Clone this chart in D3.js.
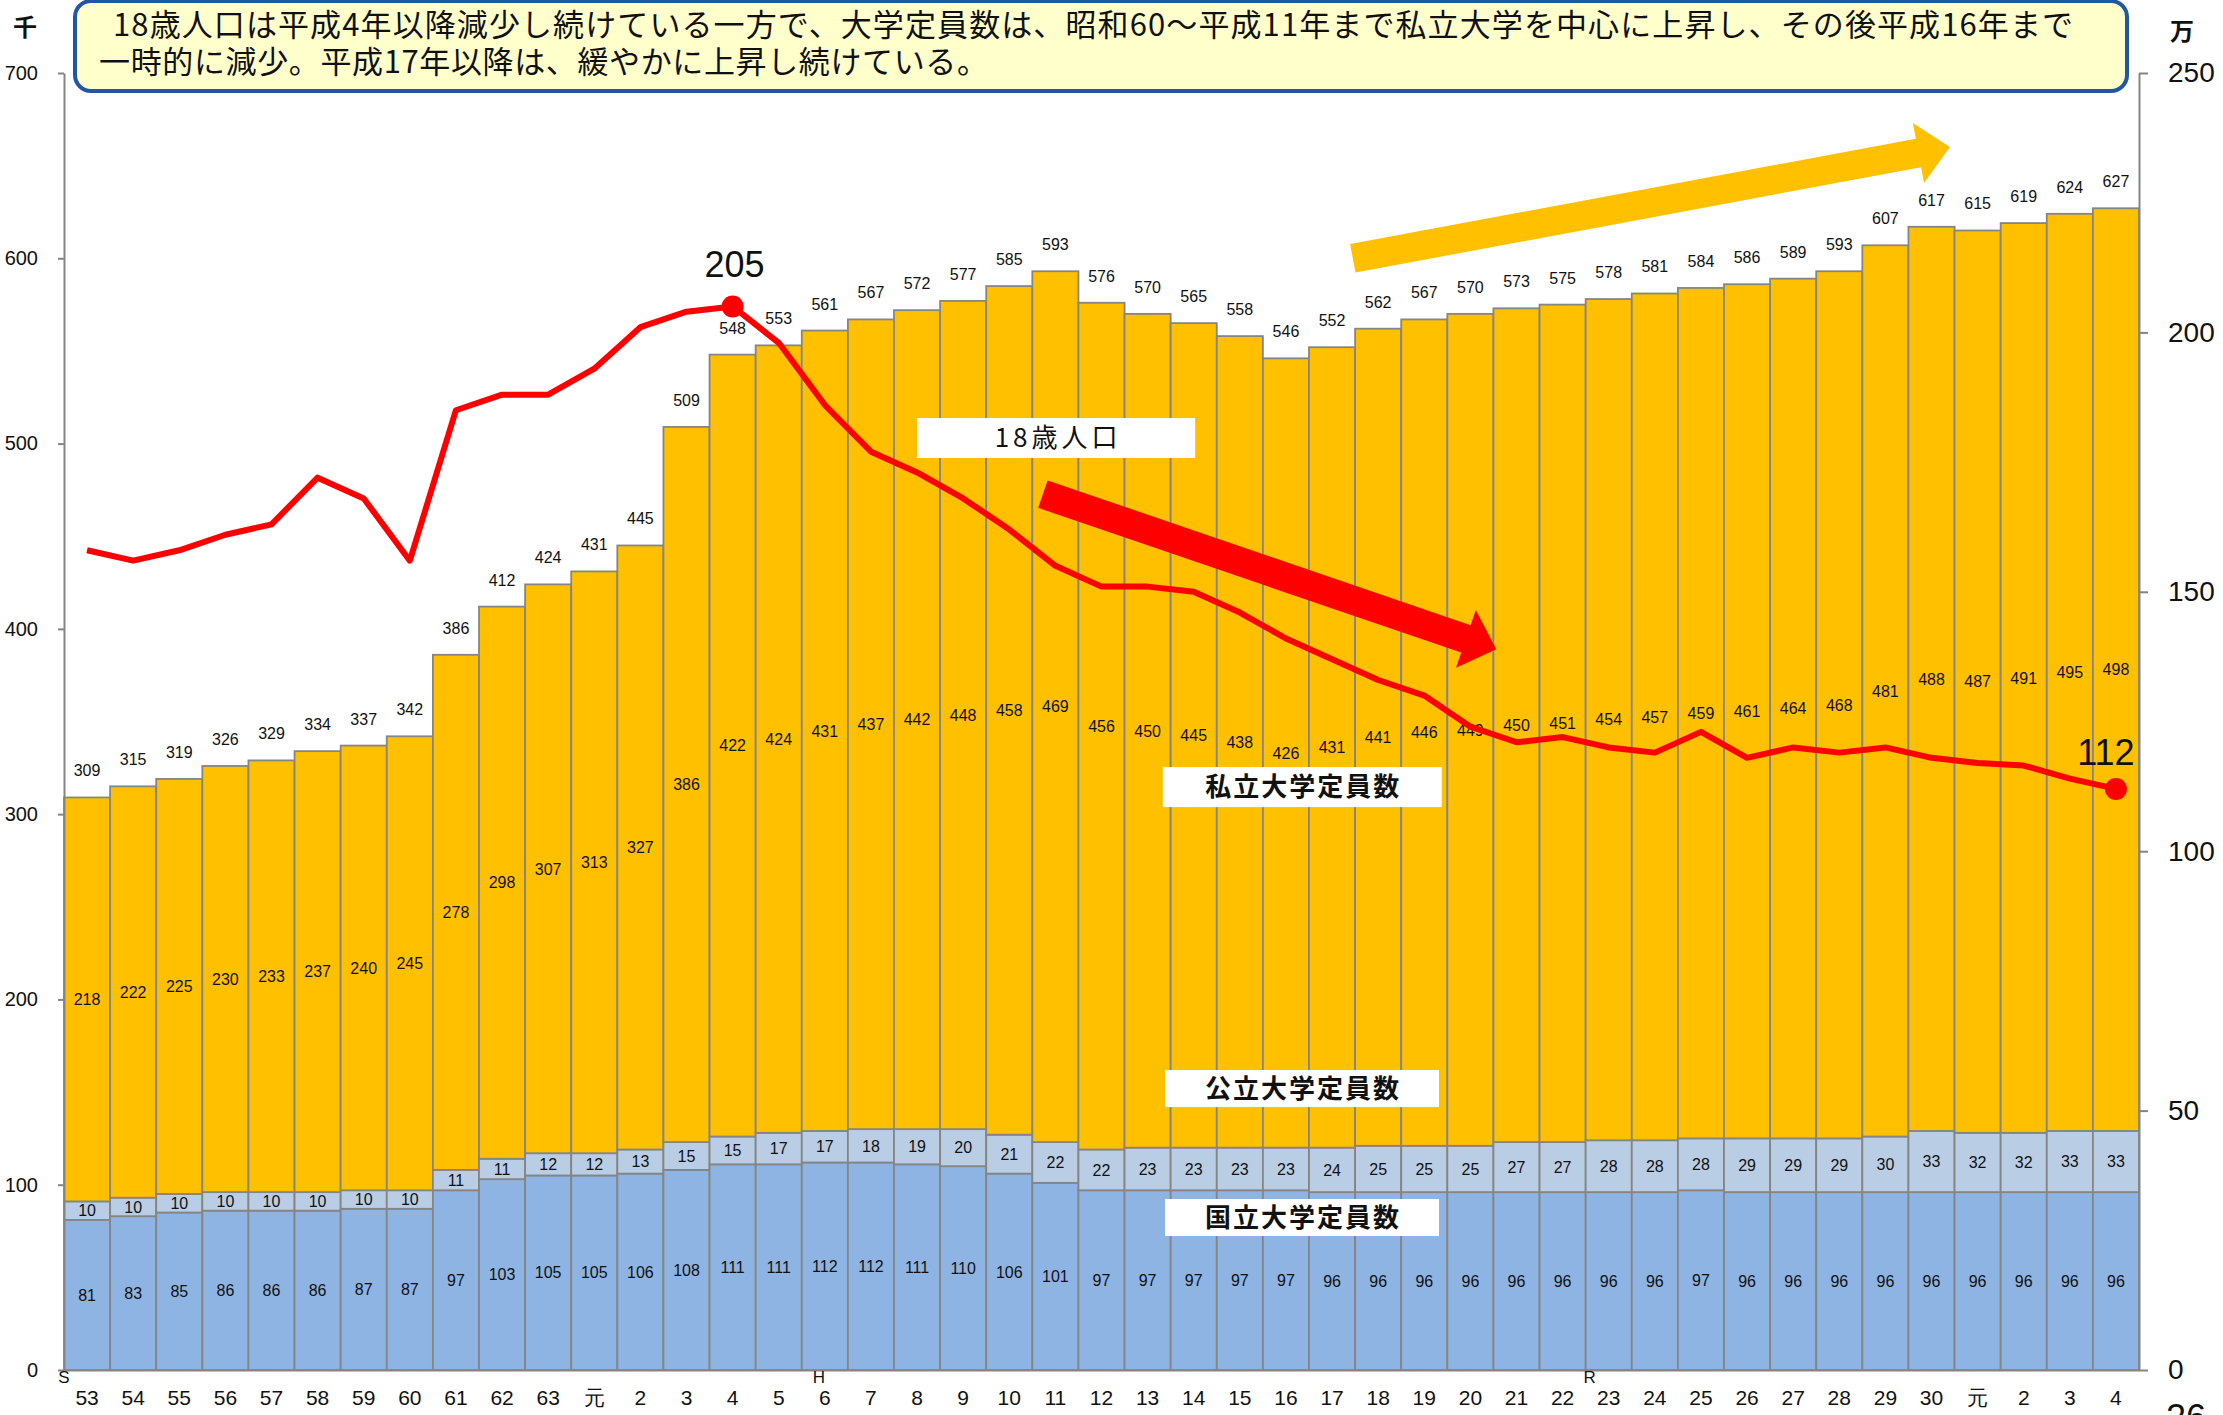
<!DOCTYPE html>
<html>
<head>
<meta charset="utf-8">
<script src="https://cdn.jsdelivr.net/npm/d3@7"></script>
<style>
  html, body { margin: 0; padding: 0; background: #ffffff; }
  svg { display: block; }
  text { font-family: "Liberation Sans", Arial, sans-serif; }
  .jp { font-family: "Noto Sans CJK JP", "Noto Sans", sans-serif; }
</style>
</head>
<body>
<svg id="chart" width="2223" height="1415"></svg>
<script>
// ---------------- DATA ----------------
const categories = ["53","54","55","56","57","58","59","60","61","62","63","元",
  "2","3","4","5","6","7","8","9","10","11","12","13","14","15","16","17","18","19",
  "20","21","22","23","24","25","26","27","28","29","30","元","2","3","4"];

// 国立大学定員数 (千人)
const nationalCap = [81,83,85,86,86,86,87,87,97,103,105,105,106,108,111,111,
  112,112,111,110,106,101,97,97,97,97,97,96,96,96,96,96,96,96,96,97,96,96,96,96,96,96,96,96,96];
// 公立大学定員数 (千人)
const publicCap = [10,10,10,10,10,10,10,10,11,11,12,12,13,15,15,17,
  17,18,19,20,21,22,22,23,23,23,23,24,25,25,25,27,27,28,28,28,29,29,29,30,33,32,32,33,33];
// 私立大学定員数 (千人)
const privateCap = [218,222,225,230,233,237,240,245,278,298,307,313,327,386,422,424,
  431,437,442,448,458,469,456,450,445,438,426,431,441,446,449,450,451,454,457,459,461,464,468,481,488,487,491,495,498];
// 大学定員数 合計 (千人)
const totalCap = [309,315,319,326,329,334,337,342,386,412,424,431,445,509,548,553,
  561,567,572,577,585,593,576,570,565,558,546,552,562,567,570,573,575,578,581,584,586,589,593,607,617,615,619,624,627];
// 18歳人口 (万人)
const pop18 = [158,156,158,161,163,172,168,156,185,188,188,193,201,204,205,198,
  186,177,173,168,162,155,151,151,150,146,141,137,133,130,124,121,122,120,119,123,118,120,119,120,118,117,116.5,114,112];

const leftTicks = [0,100,200,300,400,500,600,700];
const rightTicks = [0,50,100,150,200,250];
const eraMarks = [{label:"S", index:0}, {label:"H", index:16}, {label:"R", index:33}];
const highlighted = [14, 44]; // 平成4年 (205), 令和4年 (112)

const titleLines = [
  "18歳人口は平成4年以降減少し続けている一方で、大学定員数は、昭和60～平成11年まで私立大学を中心に上昇し、その後平成16年まで",
  "一時的に減少。平成17年以降は、緩やかに上昇し続けている。"
];

// ---------------- LAYOUT ----------------
const svg = d3.select("#chart");
const X0 = 64, X1 = 2139, YB = 1370, YT = 73;
const x = d3.scaleBand().domain(d3.range(categories.length)).range([X0, X1]).padding(0);
const yL = d3.scaleLinear().domain([0, 700]).range([YB, YT]);
const yR = d3.scaleLinear().domain([0, 250]).range([YB, YT]);
const step = x.step();
const xAt = t => X0 + t * step;      // fractional band position
const cx = i => x(i) + x.bandwidth() / 2;

const COL_NAT = "#8EB4E3", COL_PUB = "#B9CDE5", COL_PRI = "#FFC000";
const GRID = "#858585";

// ---------------- BARS ----------------
const rows = categories.map((c, i) => ({
  i, nat: nationalCap[i], pub: publicCap[i], pri: privateCap[i], tot: totalCap[i]
}));

const gBars = svg.append("g");
rows.forEach(r => {
  const segs = [
    {y0: 0, y1: r.nat, fill: COL_NAT},
    {y0: r.nat, y1: r.nat + r.pub, fill: COL_PUB},
    {y0: r.nat + r.pub, y1: r.tot, fill: COL_PRI}
  ];
  segs.forEach(s => {
    gBars.append("rect")
      .attr("x", x(r.i)).attr("width", x.bandwidth())
      .attr("y", yL(s.y1)).attr("height", yL(s.y0) - yL(s.y1))
      .attr("fill", s.fill).attr("stroke", GRID).attr("stroke-width", 1.8);
  });
});

// segment labels
const gLab = svg.append("g").attr("font-size", 16).attr("fill", "#111").attr("text-anchor", "middle");
rows.forEach(r => {
  gLab.append("text").attr("x", cx(r.i)).attr("y", yL(r.nat / 2)).attr("dy", "0.36em").text(r.nat);
  gLab.append("text").attr("x", cx(r.i)).attr("y", yL(r.nat + r.pub / 2)).attr("dy", "0.36em").text(r.pub);
  gLab.append("text").attr("x", cx(r.i)).attr("y", yL((r.nat + r.pub + r.tot) / 2)).attr("dy", "0.36em").text(r.pri);
  gLab.append("text").attr("x", cx(r.i)).attr("y", yL(r.tot) - 21).text(r.tot);
});

// ---------------- AXES ----------------
const axL = svg.append("g").attr("transform", `translate(${X0},0)`)
  .call(d3.axisLeft(yL).tickValues(leftTicks).tickSize(6).tickSizeOuter(0).tickPadding(20));
const axR = svg.append("g").attr("transform", `translate(${X1},0)`)
  .call(d3.axisRight(yR).tickValues(rightTicks).tickSize(9).tickSizeOuter(0).tickPadding(20));
const axB = svg.append("g").attr("transform", `translate(0,${YB})`)
  .call(d3.axisBottom(x).tickFormat(i => categories[i]).tickSize(0).tickPadding(20));
[axL, axR, axB].forEach(a => {
  a.selectAll("path").attr("stroke", GRID).attr("stroke-width", 2);
  a.selectAll("line").attr("stroke", GRID).attr("stroke-width", 2);
  a.selectAll("text").attr("fill", "#111").attr("font-family", "'Liberation Sans', Arial, 'Noto Sans CJK JP', sans-serif");
});
axL.selectAll("text").attr("font-size", 20);
axR.selectAll("text").attr("font-size", 28);
axB.selectAll("text").attr("font-size", 21);

// era marks
svg.append("g").selectAll("text").data(eraMarks).join("text")
  .attr("x", d => d.index === 0 ? x(d.index) : d.index === 16 ? x(d.index) + 17 : x(d.index) + 4)
  .attr("y", YB + 13).attr("text-anchor", "middle").attr("font-size", 17).attr("fill", "#111")
  .text(d => d.label);

// unit labels
svg.append("text").attr("class", "jp").attr("x", 25).attr("y", 36).attr("text-anchor", "middle")
  .attr("font-size", 24).attr("font-weight", "bold").attr("fill", "#111").text("千");
svg.append("text").attr("class", "jp").attr("x", 2182).attr("y", 40).attr("text-anchor", "middle")
  .attr("font-size", 24).attr("font-weight", "bold").attr("fill", "#111").text("万");

// page number (cut off at bottom, as in the source)
svg.append("text").attr("x", 2166).attr("y", 1430).attr("font-size", 36).attr("fill", "#111").text("26");

// ---------------- 18歳人口 LINE ----------------
const line = d3.line().x((d, i) => cx(i)).y(d => yR(d));
svg.append("path").datum(pop18).attr("d", line)
  .attr("fill", "none").attr("stroke", "#FF0000").attr("stroke-width", 6).attr("stroke-linejoin", "round");
svg.append("g").selectAll("circle").data(highlighted).join("circle")
  .attr("cx", i => cx(i)).attr("cy", i => yR(pop18[i])).attr("r", 11).attr("fill", "#FF0000");
svg.append("text").attr("x", cx(14) + 2).attr("y", yR(pop18[14]) - 29).attr("text-anchor", "middle")
  .attr("font-size", 36).attr("fill", "#111").text(pop18[14]);
svg.append("text").attr("x", cx(44) - 10).attr("y", yR(pop18[44]) - 24).attr("text-anchor", "middle")
  .attr("font-size", 36).attr("fill", "#111").text(pop18[44]);

// ---------------- ARROWS ----------------
function arrow(t0, v0, t1, v1, color) {
  const ax = xAt(t0), ay = yL(v0), bx = xAt(t1), by = yL(v1);
  const L = Math.hypot(bx - ax, by - ay);
  const ux = (bx - ax) / L, uy = (by - ay) / L, nx = -uy, ny = ux;
  const sw = 29, hw = 61, hl = 32;
  const P = (s, n) => [ax + ux * s + nx * n, ay + uy * s + ny * n];
  const pts = [P(0, -sw/2), P(L - hl, -sw/2), P(L - hl, -hw/2), P(L, 0), P(L - hl, hw/2), P(L - hl, sw/2), P(0, sw/2)];
  svg.append("polygon").attr("points", pts.map(p => p.join(",")).join(" ")).attr("fill", color);
}
arrow(27.95, 600, 40.9, 660, "#FFC000");
arrow(21.23, 472.7, 31.06, 389, "#FF0000");

// ---------------- LABEL BOXES ----------------
const boxes = [
  {text: "18歳人口", t0: 18.50, t1: 24.53, v0: 513.8, v1: 492.2, ls: 4, fw: 400},
  {text: "私立大学定員数", t0: 23.83, t1: 29.88, v0: 325.4, v1: 303.8, ls: 2, fw: 700},
  {text: "公立大学定員数", t0: 23.88, t1: 29.82, v0: 161.9, v1: 141.9, ls: 2, fw: 700},
  {text: "国立大学定員数", t0: 23.88, t1: 29.82, v0: 92.3, v1: 72.3, ls: 2, fw: 700}
];
boxes.forEach(b => {
  const bx0 = xAt(b.t0), bx1 = xAt(b.t1), by0 = yL(b.v0), by1 = yL(b.v1);
  svg.append("rect").attr("x", bx0).attr("y", by0).attr("width", bx1 - bx0).attr("height", by1 - by0).attr("fill", "#fff");
  svg.append("text").attr("class", "jp").attr("x", (bx0 + bx1) / 2 + b.ls / 2).attr("y", (by0 + by1) / 2)
    .attr("dy", "0.36em").attr("text-anchor", "middle").attr("font-size", 26).attr("font-weight", b.fw)
    .attr("letter-spacing", b.ls).attr("fill", "#111").text(b.text);
});

// ---------------- TITLE BOX ----------------
svg.append("rect").attr("x", 75).attr("y", 1).attr("width", 2052).attr("height", 90)
  .attr("rx", 16).attr("ry", 16).attr("fill", "#FFFFCC").attr("stroke", "#1F56A6").attr("stroke-width", 4);
svg.append("text").attr("class", "jp").attr("x", 113).attr("y", 36).attr("font-size", 31).attr("fill", "#111")
  .attr("textLength", 1960).attr("lengthAdjust", "spacing").text(titleLines[0]);
svg.append("text").attr("class", "jp").attr("x", 99).attr("y", 73).attr("font-size", 31).attr("fill", "#111")
  .attr("textLength", 889).attr("lengthAdjust", "spacing").text(titleLines[1]);
</script>
</body>
</html>
